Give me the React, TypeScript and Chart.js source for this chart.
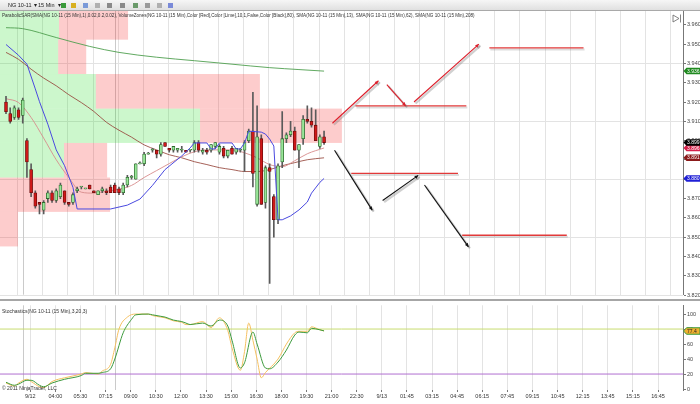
import { useEffect, useRef } from "react";
import { Chart, registerables } from "chart.js";

Chart.register(...registerables);

const FONT = "'Liberation Sans', Arial, sans-serif";

// ---------- price bars (15 min) ----------
const barOpen = [
  3.920, 3.914, 3.912, 3.916, 3.913, 3.900, 3.885, 3.873, 3.868, 3.864,
  3.870, 3.873, 3.869, 3.871, 3.874, 3.868, 3.868, 3.874, 3.876, 3.875,
  3.877, 3.874, 3.872, 3.874, 3.874, 3.876, 3.877, 3.875, 3.873, 3.877,
  3.881, 3.880, 3.888, 3.888, 3.893, 3.895, 3.895, 3.893, 3.899, 3.896,
  3.895, 3.895, 3.895, 3.895, 3.895, 3.895, 3.899, 3.894, 3.895, 3.895,
  3.897, 3.894, 3.896, 3.892, 3.896, 3.894, 3.895, 3.895, 3.900, 3.905,
  3.867, 3.901, 3.868, 3.886, 3.871, 3.859, 3.889, 3.901, 3.903, 3.905,
  3.895, 3.901, 3.911, 3.910, 3.908, 3.897, 3.902,
];
const barHigh = [
  3.923, 3.917, 3.918, 3.917, 3.922, 3.901, 3.888, 3.874, 3.868, 3.869,
  3.874, 3.874, 3.875, 3.878, 3.874, 3.868, 3.873, 3.876, 3.876, 3.875,
  3.877, 3.874, 3.874, 3.876, 3.875, 3.877, 3.878, 3.876, 3.878, 3.882,
  3.882, 3.888, 3.889, 3.894, 3.894, 3.896, 3.895, 3.899, 3.899, 3.896,
  3.897, 3.896, 3.897, 3.895, 3.895, 3.900, 3.900, 3.896, 3.896, 3.898,
  3.899, 3.898, 3.897, 3.895, 3.897, 3.896, 3.896, 3.900, 3.906, 3.925,
  3.918, 3.903, 3.887, 3.888, 3.872, 3.888, 3.915, 3.904, 3.910, 3.907,
  3.898, 3.913, 3.918, 3.917, 3.916, 3.903, 3.905,
];
const barLow = [
  3.914, 3.909, 3.911, 3.911, 3.909, 3.881, 3.871, 3.865, 3.862, 3.862,
  3.868, 3.868, 3.868, 3.870, 3.867, 3.866, 3.867, 3.873, 3.875, 3.875,
  3.875, 3.873, 3.872, 3.873, 3.872, 3.873, 3.873, 3.872, 3.872, 3.876,
  3.880, 3.880, 3.888, 3.887, 3.893, 3.894, 3.891, 3.892, 3.897, 3.894,
  3.894, 3.894, 3.894, 3.894, 3.894, 3.894, 3.894, 3.893, 3.893, 3.894,
  3.896, 3.893, 3.891, 3.891, 3.893, 3.893, 3.894, 3.884, 3.899, 3.876,
  3.866, 3.867, 3.865, 3.826, 3.850, 3.857, 3.886, 3.899, 3.902, 3.895,
  3.886, 3.898, 3.909, 3.907, 3.900, 3.896, 3.898,
];
const barClose = [
  3.915, 3.910, 3.917, 3.912, 3.921, 3.889, 3.873, 3.866, 3.867, 3.868,
  3.873, 3.869, 3.874, 3.877, 3.868, 3.867, 3.872, 3.875, 3.876, 3.875,
  3.875, 3.873, 3.874, 3.875, 3.873, 3.873, 3.873, 3.873, 3.877, 3.881,
  3.881, 3.888, 3.888, 3.893, 3.893, 3.895, 3.893, 3.898, 3.897, 3.895,
  3.897, 3.896, 3.895, 3.894, 3.895, 3.899, 3.895, 3.895, 3.894, 3.898,
  3.899, 3.897, 3.892, 3.895, 3.893, 3.896, 3.895, 3.899, 3.905, 3.883,
  3.902, 3.867, 3.886, 3.884, 3.859, 3.887, 3.901, 3.903, 3.905, 3.895,
  3.898, 3.911, 3.910, 3.908, 3.900, 3.902, 3.899,
];

// ---------- indicators: [bar, value] ----------
const sma13 = [
  [0, 3.9217], [3, 3.9197], [6, 3.912], [9, 3.9013], [12, 3.8901], [15, 3.8809],
  [18, 3.8733], [21, 3.8728], [24, 3.8738], [27, 3.8748], [30, 3.8768], [33, 3.8809],
  [36, 3.8845], [39, 3.8881], [42, 3.8916], [45, 3.8942], [48, 3.8952], [51, 3.8952],
  [54, 3.8952], [57, 3.8937], [60, 3.8911], [63, 3.8876], [66, 3.8865], [69, 3.8896],
  [72, 3.8932], [76, 3.8962],
];
const sma62 = [
  [0, 3.9457], [3, 3.9421], [6, 3.937], [9, 3.9324], [12, 3.9284], [15, 3.9238],
  [18, 3.9197], [21, 3.9151], [24, 3.9095], [27, 3.9054], [30, 3.9018], [33, 3.8978],
  [36, 3.8952], [39, 3.8927], [42, 3.8911], [45, 3.8891], [48, 3.8876], [51, 3.886],
  [54, 3.885], [57, 3.884], [60, 3.884], [63, 3.885], [66, 3.887], [69, 3.8886],
  [72, 3.8901], [76, 3.8911],
];
const sma208 = [
  [0, 3.9585], [4, 3.958], [12, 3.9534], [20, 3.9488], [27, 3.9457], [36, 3.9432],
  [45, 3.9414], [54, 3.9396], [63, 3.9378], [70, 3.9368], [76, 3.936],
];
const sar = [
  [0, 3.9498], [3, 3.9442], [5, 3.9396], [7, 3.9268], [8, 3.9202], [10, 3.9085],
  [12, 3.8952], [14, 3.887], [16, 3.8758], [17, 3.8646], [25, 3.8646], [29, 3.8666],
  [32, 3.8697], [35, 3.8768], [38, 3.885], [42, 3.8921], [44, 3.8962], [45, 3.8988],
  [48, 3.8988], [49, 3.8957], [50, 3.8957], [51, 3.8988], [54, 3.8988], [55, 3.8957],
  [56, 3.8957], [57, 3.8988], [58, 3.9049], [61, 3.9044], [62, 3.9034], [63, 3.9008],
  [64, 3.8972], [65, 3.859], [66, 3.859], [68, 3.861], [70, 3.8641], [72, 3.8682],
  [73, 3.8728], [75, 3.8784], [76, 3.8804],
];

// ---------- stochastics ----------
const stochD = [
  [0, 9], [2, 5], [3, 6.5], [5, 11.7], [6, 11.7], [8, 5], [9, 3], [11, 8], [14, 13],
  [18, 18], [19, 21], [22, 21], [23, 22], [25, 27], [26, 40], [28, 75], [30, 93],
  [31, 99], [34, 100], [35, 99], [37, 97], [38, 96], [40, 92], [42, 90], [43, 88],
  [44, 86], [47, 88], [49, 84], [51, 92], [53, 84], [54, 65], [56, 28], [57, 35],
  [59, 76], [60, 60], [62, 28], [63, 27], [65, 36], [67, 52], [69, 72], [70, 76],
  [72, 75], [73, 81], [75, 79], [76, 77.6],
];
const stochK = [
  [0, 8], [2, 4], [3, 8], [5, 13], [6, 10], [8, 3], [9, 2], [11, 10], [14, 15],
  [18, 20], [19, 22], [22, 20], [23, 24], [25, 33], [26, 55], [27, 80], [29, 96],
  [31, 100], [34, 100], [35, 98], [37, 96], [38, 95], [40, 91], [42, 89], [43, 86],
  [44, 86], [47, 90], [49, 82], [51, 95], [53, 78], [54, 55], [56, 25], [57, 50],
  [58, 88], [59, 65], [60, 40], [61, 15], [62, 22], [65, 40], [67, 60], [69, 75],
  [70, 77], [72, 77], [73, 83], [75, 79], [76, 77.4],
];
const stochUpper = 80;
const stochLower = 20;

// ---------- volume zones ----------
const zoneEdges = [3.8452, 3.8631, 3.8809, 3.8988, 3.9166, 3.9345, 3.9523, 3.9702];
const zoneUpVol = [0, 0, 1530, 4780, 2290, 1390, 1410];
const zoneDownVol = [430, 2630, 1030, 3390, 3920, 670, 1650];
const ZONE_VOL_PER_BAR = 100;

// ---------- drawing objects: [bar1, price1, bar2, price2] ----------
const redArrows = [
  [78, 3.909, 89, 3.931],
  [91, 3.929, 95.5, 3.918],
  [97.5, 3.92, 113, 3.95],
];
const blackArrows = [
  [78.5, 3.895, 87.5, 3.864],
  [90, 3.869, 98.5, 3.882],
  [100, 3.877, 110.5, 3.845],
];
const redLevels = [
  [83.5, 110, 3.918],
  [115.5, 138, 3.948],
  [82.5, 108, 3.883],
  [109, 134, 3.851],
];

// ---------- axes ----------
const timeLabels = [
  "9/12", "04:00", "05:30", "07:15", "09:00", "10:30", "12:00", "13:30", "15:00",
  "16:30", "18:00", "19:30", "21:00", "22:30", "9/13", "01:45", "03:15", "04:45",
  "06:15", "07:45", "09:15", "10:45", "12:15", "13:45", "15:15", "16:45",
];
const sessionBreakBars = [4, 26];
const LABEL_FIRST_BAR = 5.8;
const LABEL_STEP_BARS = 6;
const priceTicks = [
  3.82, 3.83, 3.84, 3.85, 3.86, 3.87, 3.88, 3.89, 3.9, 3.91, 3.92, 3.93, 3.94, 3.95, 3.96,
];
const stochTicks = [0, 20, 40, 60, 80, 100];
const X_MIN = -1.434;
const X_MAX = 161.77;
const PRICE_MIN = 3.8202;
const PRICE_MAX = 3.96714;
const STOCH_MIN = -1.3;
const STOCH_MAX = 111.7;

const legendText =
  "ParabolicSAR(SMA(NG 10-11 (15 Min),1),0.02,0.2,0.02), VolumeZones(NG 10-11 (15 Min),Color [Red],Color [Lime],10,1,False,Color [Black],80), SMA(NG 10-11 (15 Min),13), SMA(NG 10-11 (15 Min),62), SMA(NG 10-11 (15 Min),208)";
const stochText = "Stochastics(NG 10-11 (15 Min),3,20,3)";

function marker(ctx: CanvasRenderingContext2D, x: number, y: number, text: string, bg: string, fg: string, border?: string) {
  const h = 6.5;
  const w = 16.5;
  ctx.save();
  ctx.beginPath();
  ctx.moveTo(x, y);
  ctx.lineTo(x + 3, y - h / 2);
  ctx.lineTo(x + w, y - h / 2);
  ctx.lineTo(x + w, y + h / 2);
  ctx.lineTo(x + 3, y + h / 2);
  ctx.closePath();
  ctx.fillStyle = bg;
  ctx.fill();
  if (border) {
    ctx.strokeStyle = border;
    ctx.lineWidth = 1;
    ctx.stroke();
  }
  ctx.fillStyle = fg;
  ctx.font = `5px ${FONT}`;
  ctx.textBaseline = "middle";
  ctx.textAlign = "left";
  ctx.fillText(text, x + 3.5, y + 0.3);
  ctx.restore();
}

function arrow(ctx: CanvasRenderingContext2D, x1: number, y1: number, x2: number, y2: number, color: string) {
  const ang = Math.atan2(y2 - y1, x2 - x1);
  const head = 4;
  const drawIt = (dx: number, dy: number, col: string, lw: number) => {
    ctx.strokeStyle = col;
    ctx.fillStyle = col;
    ctx.lineWidth = lw;
    ctx.beginPath();
    ctx.moveTo(x1 + dx, y1 + dy);
    ctx.lineTo(x2 + dx, y2 + dy);
    ctx.stroke();
    ctx.beginPath();
    ctx.moveTo(x2 + dx, y2 + dy);
    ctx.lineTo(x2 + dx - head * Math.cos(ang - 0.45), y2 + dy - head * Math.sin(ang - 0.45));
    ctx.lineTo(x2 + dx - head * Math.cos(ang + 0.45), y2 + dy - head * Math.sin(ang + 0.45));
    ctx.closePath();
    ctx.fill();
  };
  drawIt(1.5, 1.5, "rgba(120,120,120,0.35)", 2.2);
  drawIt(0, 0, color, 1.1);
}

const sessionPlugin = {
  id: "sessions",
  beforeDatasetsDraw(chart: any) {
    const { ctx, chartArea, scales } = chart;
    ctx.save();
    ctx.strokeStyle = "#cacaca";
    ctx.lineWidth = 1;
    for (const b of sessionBreakBars) {
      const x = Math.round(scales.x.getPixelForValue(b)) + 0.5;
      ctx.beginPath();
      ctx.moveTo(x, chartArea.top);
      ctx.lineTo(x, chartArea.bottom);
      ctx.stroke();
    }
    ctx.restore();
  },
};

export default function App() {
  const priceRef = useRef<HTMLCanvasElement>(null);
  const stochRef = useRef<HTMLCanvasElement>(null);

  useEffect(() => {
    document.body.style.margin = "0";
    const idx = barOpen.map((_, i) => i);
    const isUp = (i: number) => barClose[i] >= barOpen[i];
    const labelTicks = () => timeLabels.map((_, k) => ({ value: LABEL_FIRST_BAR + k * LABEL_STEP_BARS }));
    const pts = (arr: number[][]) => arr.map(([x, y]) => ({ x, y }));

    const xAxis = (show: boolean): any => ({
      type: "linear",
      min: X_MIN,
      max: X_MAX,
      offset: false,
      afterBuildTicks: (s: any) => {
        s.ticks = labelTicks();
      },
      ticks: {
        display: show,
        autoSkip: false,
        maxRotation: 0,
        padding: 1,
        color: "#333",
        font: { size: 5.5, family: FONT },
        callback: (_v: any, i: number) => timeLabels[i],
      },
      grid: { color: "#e3e3e3", lineWidth: 1, drawTicks: show, tickLength: 2, tickColor: "#777" },
      border: { display: false },
      afterFit: (s: any) => {
        s.height = show ? 14 : 0;
      },
    });

    const zonePlugin = {
      id: "zones",
      beforeDatasetsDraw(chart: any) {
        const { ctx, chartArea, scales } = chart;
        const xs = scales.x;
        const ys = scales.y;
        const x0 = xs.getPixelForValue(X_MIN);
        ctx.save();
        ctx.beginPath();
        ctx.rect(chartArea.left, chartArea.top, chartArea.right - chartArea.left, chartArea.bottom - chartArea.top);
        ctx.clip();
        for (let r = 0; r < zoneUpVol.length; r++) {
          const yTop = ys.getPixelForValue(zoneEdges[r + 1]);
          const yBot = ys.getPixelForValue(zoneEdges[r]);
          const xUp = xs.getPixelForValue(X_MIN + zoneUpVol[r] / ZONE_VOL_PER_BAR);
          const xDn = xs.getPixelForValue(X_MIN + (zoneUpVol[r] + zoneDownVol[r]) / ZONE_VOL_PER_BAR);
          ctx.fillStyle = "rgba(40,220,40,0.24)";
          ctx.fillRect(x0, yTop, xUp - x0, yBot - yTop);
          ctx.fillStyle = "rgba(245,40,40,0.24)";
          ctx.fillRect(xUp, yTop, xDn - xUp, yBot - yTop);
        }
        ctx.restore();
      },
    };

    const drawingPlugin = {
      id: "drawings",
      afterDatasetsDraw(chart: any) {
        const { ctx, scales } = chart;
        const xs = scales.x;
        const ys = scales.y;
        ctx.save();
        for (const [b1, b2, p] of redLevels) {
          ctx.strokeStyle = "rgba(120,120,120,0.25)";
          ctx.lineWidth = 2;
          ctx.beginPath();
          ctx.moveTo(xs.getPixelForValue(b1) + 1, ys.getPixelForValue(p) + 1.5);
          ctx.lineTo(xs.getPixelForValue(b2) + 1, ys.getPixelForValue(p) + 1.5);
          ctx.stroke();
          ctx.strokeStyle = "#e23a3a";
          ctx.lineWidth = 1.3;
          ctx.beginPath();
          ctx.moveTo(xs.getPixelForValue(b1), ys.getPixelForValue(p));
          ctx.lineTo(xs.getPixelForValue(b2), ys.getPixelForValue(p));
          ctx.stroke();
        }
        for (const [b1, p1, b2, p2] of redArrows) {
          arrow(ctx, xs.getPixelForValue(b1), ys.getPixelForValue(p1), xs.getPixelForValue(b2), ys.getPixelForValue(p2), "#dc1e2a");
        }
        for (const [b1, p1, b2, p2] of blackArrows) {
          arrow(ctx, xs.getPixelForValue(b1), ys.getPixelForValue(p1), xs.getPixelForValue(b2), ys.getPixelForValue(p2), "#111");
        }
        ctx.restore();
      },
    };

    const priceOverlay = {
      id: "priceOverlay",
      beforeDraw(chart: any) {
        const { ctx } = chart;
        ctx.save();
        const g = ctx.createLinearGradient(0, 0, 0, 11);
        g.addColorStop(0, "#f6f6f6");
        g.addColorStop(1, "#dedede");
        ctx.fillStyle = g;
        ctx.fillRect(0, 0, 700, 11);
        ctx.fillStyle = "#a9a9a9";
        ctx.fillRect(0, 10, 700, 1);
        ctx.fillStyle = "#222";
        ctx.font = `5.5px ${FONT}`;
        ctx.textBaseline = "middle";
        ctx.fillText("NG 10-11  \u25BE", 8, 5.5);
        ctx.fillText("15 Min  \u25BE", 38, 5.5);
        const icons = [
          [61, "#3a9a3a"], [71, "#d8b020"], [83, "#7a9ad8"], [95, "#b0b0b0"],
          [107, "#8a8a8a"], [120, "#8a8a8a"], [133, "#6a9a6a"], [145, "#9a9a9a"],
          [157, "#b0b0b0"], [168, "#7a8ad8"],
        ];
        for (const [x, c] of icons as any) {
          ctx.fillStyle = c;
          ctx.fillRect(x, 3, 5, 5);
        }
        ctx.fillStyle = "#fff";
        ctx.fillRect(0, 11, 700, 288);
        ctx.restore();
      },
      afterDraw(chart: any) {
        const { ctx, scales } = chart;
        const ys = scales.y;
        ctx.save();
        ctx.font = `10px ${FONT}`;
        const w = ctx.measureText(legendText).width;
        const size = (10 * 474) / w;
        ctx.font = `${size}px ${FONT}`;
        ctx.fillStyle = "#333";
        ctx.textBaseline = "middle";
        ctx.textAlign = "left";
        ctx.fillText(legendText, 2, 15.5);
        ctx.strokeStyle = "#666";
        ctx.lineWidth = 0.8;
        ctx.beginPath();
        ctx.moveTo(673, 15);
        ctx.lineTo(679, 18.5);
        ctx.lineTo(673, 22);
        ctx.closePath();
        ctx.stroke();
        ctx.beginPath();
        ctx.moveTo(680.5, 14.5);
        ctx.lineTo(680.5, 22.5);
        ctx.stroke();
        const last = barClose.length - 1;
        const x = chart.chartArea.right + 0.5;
        marker(ctx, x, ys.getPixelForValue(sar[sar.length - 1][1]), sar[sar.length - 1][1].toFixed(3), "#1f1fd6", "#fff");
        marker(ctx, x, ys.getPixelForValue(sma62[sma62.length - 1][1]), sma62[sma62.length - 1][1].toFixed(3), "#8b1a1a", "#fff");
        marker(ctx, x, ys.getPixelForValue(sma13[sma13.length - 1][1]), sma13[sma13.length - 1][1].toFixed(3), "#d6204a", "#fff");
        marker(ctx, x, ys.getPixelForValue(barClose[last]), barClose[last].toFixed(3), "#000", "#fff");
        marker(ctx, x, ys.getPixelForValue(sma208[sma208.length - 1][1]), sma208[sma208.length - 1][1].toFixed(3), "#1f8a1f", "#fff");
        ctx.restore();
      },
    };

    const priceChart = new Chart(priceRef.current!, {
      type: "bar",
      data: {
        datasets: [
          {
            type: "line",
            data: pts(sar),
            borderColor: "#4a4ae0",
            borderWidth: 1,
            pointRadius: 0,
            tension: 0,
            order: 0,
          } as any,
          {
            type: "bar",
            data: idx.map((i) => ({ x: i, y: [barOpen[i], barClose[i]] })),
            backgroundColor: idx.map((i) => (isUp(i) ? "#98e698" : "#d01818")),
            borderColor: idx.map((i) => (isUp(i) ? "#2e6a2e" : "#6a0e0e")),
            borderWidth: 0.8,
            borderSkipped: false,
            barThickness: 3,
            minBarLength: 1,
            grouped: false,
            order: 1,
          },
          {
            type: "bar",
            data: idx.map((i) => ({ x: i, y: [barLow[i], barHigh[i]] })),
            backgroundColor: "#5a5a5a",
            barThickness: 1,
            grouped: false,
            order: 2,
          },
          {
            type: "line",
            data: pts(sma13),
            borderColor: "rgba(215,140,140,0.9)",
            borderWidth: 1,
            pointRadius: 0,
            cubicInterpolationMode: "monotone",
            order: 3,
          } as any,
          {
            type: "line",
            data: pts(sma62),
            borderColor: "rgba(150,70,60,0.85)",
            borderWidth: 1,
            pointRadius: 0,
            cubicInterpolationMode: "monotone",
            order: 4,
          } as any,
          {
            type: "line",
            data: pts(sma208),
            borderColor: "rgba(80,160,80,0.9)",
            borderWidth: 1,
            pointRadius: 0,
            cubicInterpolationMode: "monotone",
            order: 5,
          } as any,
        ],
      },
      options: {
        animation: false,
        responsive: false,
        events: [],
        layout: { padding: { top: 11, left: 0, right: 0, bottom: 0 }, autoPadding: false } as any,
        plugins: { legend: { display: false }, tooltip: { enabled: false }, title: { display: false } },
        scales: {
          x: xAxis(false),
          y: {
            type: "linear",
            position: "right",
            min: PRICE_MIN,
            max: PRICE_MAX,
            afterBuildTicks: (s: any) => {
              s.ticks = priceTicks.map((v) => ({ value: v }));
            },
            ticks: {
              padding: 1,
              color: "#444",
              font: { size: 5.5, family: FONT },
              callback: (v: any) => Number(v).toFixed(3),
            },
            grid: {
              color: (c: any) =>
                c.tick && Math.round((c.tick.value - priceTicks[0]) * 100) % 3 === 0 ? "#e3e3e3" : "rgba(0,0,0,0)",
              tickLength: 3,
              tickColor: "#777",
            },
            border: { display: true, color: "#777" },
            afterFit: (s: any) => {
              s.width = 17;
            },
          } as any,
        },
      },
      plugins: [priceOverlay, sessionPlugin, zonePlugin, drawingPlugin],
    });

    const stochOverlay = {
      id: "stochOverlay",
      afterDraw(chart: any) {
        const { ctx, scales } = chart;
        ctx.save();
        ctx.fillStyle = "#333";
        ctx.textBaseline = "middle";
        ctx.textAlign = "left";
        ctx.font = `5px ${FONT}`;
        ctx.fillText(stochText, 2, 11);
        ctx.fillText("\u00A9 2011 NinjaTrader, LLC", 2, 88);
        const v = stochK[stochK.length - 1][1];
        marker(ctx, chart.chartArea.right + 0.5, scales.y.getPixelForValue(v), v.toFixed(1), "#f0b030", "#222", "#3a9a3a");
        ctx.restore();
      },
    };

    const stochChart = new Chart(stochRef.current!, {
      type: "line",
      data: {
        datasets: [
          {
            data: pts(stochK),
            borderColor: "#f5c060",
            borderWidth: 1,
            pointRadius: 0,
            cubicInterpolationMode: "monotone",
            order: 1,
          } as any,
          {
            data: pts(stochD),
            borderColor: "#3c9a3c",
            borderWidth: 1,
            pointRadius: 0,
            cubicInterpolationMode: "monotone",
            order: 0,
          } as any,
          {
            data: [
              { x: X_MIN, y: stochUpper },
              { x: X_MAX, y: stochUpper },
            ],
            borderColor: "#c8dc70",
            borderWidth: 1,
            pointRadius: 0,
            order: 3,
          },
          {
            data: [
              { x: X_MIN, y: stochLower },
              { x: X_MAX, y: stochLower },
            ],
            borderColor: "#b070d0",
            borderWidth: 1,
            pointRadius: 0,
            order: 3,
          },
        ],
      },
      options: {
        animation: false,
        responsive: false,
        events: [],
        layout: { padding: { top: 2, left: 0, right: 0, bottom: 0 }, autoPadding: false } as any,
        plugins: { legend: { display: false }, tooltip: { enabled: false } },
        scales: {
          x: xAxis(true),
          y: {
            type: "linear",
            position: "right",
            min: STOCH_MIN,
            max: STOCH_MAX,
            afterBuildTicks: (s: any) => {
              s.ticks = stochTicks.map((v) => ({ value: v }));
            },
            ticks: { padding: 1, color: "#444", font: { size: 5.5, family: FONT } },
            grid: { display: true, color: "rgba(0,0,0,0)", tickLength: 3, tickColor: "#777" },
            border: { display: true, color: "#777" },
            afterFit: (s: any) => {
              s.width = 17;
            },
          } as any,
        },
      },
      plugins: [sessionPlugin, stochOverlay],
    });

    return () => {
      priceChart.destroy();
      stochChart.destroy();
    };
  }, []);

  return (
    <div style={{ position: "fixed", left: 0, top: 0, width: 700, height: 404, background: "#fff", overflow: "hidden" }}>
      <canvas ref={priceRef} width={700} height={299} style={{ position: "absolute", left: 0, top: 0, width: 700, height: 299 }} />
      <div style={{ position: "absolute", left: 0, top: 299, width: 700, height: 2, background: "#a6a6a6" }} />
      <canvas ref={stochRef} width={700} height={103} style={{ position: "absolute", left: 0, top: 301, width: 700, height: 103 }} />
    </div>
  );
}
